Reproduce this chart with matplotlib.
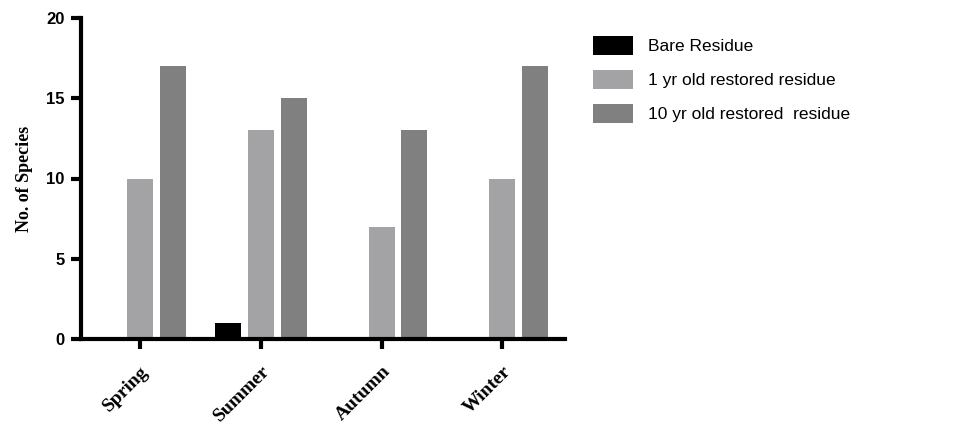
import matplotlib
matplotlib.use("Agg")
import matplotlib.pyplot as plt
import numpy as np

seasons = ["Spring", "Summer", "Autumn", "Winter"]
series_names = ["Bare Residue", "1 yr old restored residue", "10 yr old restored  residue"]
bare = [0, 1, 0, 0]
one_yr = [10, 13, 7, 10]
ten_yr = [17, 15, 13, 17]
colors = ["#000000", "#a3a3a6", "#808080"]
yticks = [0, 5, 10, 15, 20]

fig = plt.figure(figsize=(9.58, 4.34), dpi=100)
ax = fig.add_axes([81/958, 1-339/434, (565-81)/958, (339-18)/434])

x = np.arange(len(seasons))
step = 0.272
w = 0.215
for i, (vals, name, c) in enumerate(zip([bare, one_yr, ten_yr], series_names, colors)):
    ax.bar(x + (i - 1) * step, vals, width=w, color=c, label=name)

ax.set_xlim(-0.49, 3.52)
ax.set_ylim(0, 20)
ax.set_yticks(yticks)
ax.set_xticks(x)
ax.set_xticklabels(seasons, rotation=45, ha="right", rotation_mode="anchor",
                   family="Liberation Serif", fontweight="bold", fontsize=14)
for lab in ax.get_yticklabels():
    lab.set_family("Liberation Sans")
    lab.set_fontweight("bold")
    lab.set_fontsize(12)
ax.set_ylabel("No. of Species", family="Liberation Serif", fontweight="bold",
              fontsize=13, labelpad=9)
for s in ["top", "right"]:
    ax.spines[s].set_visible(False)
for s in ["left", "bottom"]:
    ax.spines[s].set_linewidth(3)
ax.tick_params(axis="both", width=3, length=7, pad=5)
ax.tick_params(axis="x", pad=10)

leg = ax.legend(loc="upper left", bbox_to_anchor=(577/958, 1-20/434),
                bbox_transform=fig.transFigure, frameon=False,
                prop={"family": "Liberation Sans", "size": 12.5},
                handlelength=2.3, handleheight=1.3, handletextpad=0.9,
                labelspacing=0.87)
fig.savefig("out.png", dpi=100)
